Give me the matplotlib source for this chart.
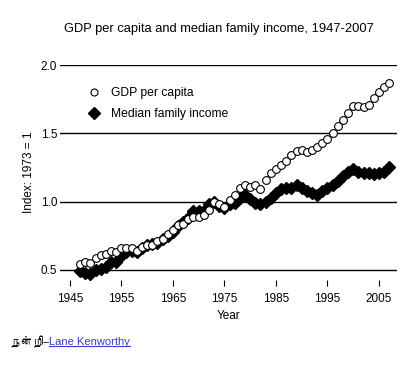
import numpy as np
import matplotlib
matplotlib.use("Agg")
import matplotlib.pyplot as plt
from matplotlib import font_manager
from matplotlib.ft2font import FT2Font
from matplotlib.lines import Line2D

plt.rcParams['font.family'] = ['Liberation Sans', 'DejaVu Sans']

# data (index, 1973 = 1)
years = list(range(1947, 2008))
gdp_per_capita = [
    0.54, 0.56, 0.55, 0.59, 0.61, 0.62, 0.64, 0.63, 0.66, 0.66,
    0.66, 0.64, 0.67, 0.68, 0.68, 0.71, 0.73, 0.76, 0.79, 0.83,
    0.84, 0.87, 0.89, 0.89, 0.90, 0.94, 1.00, 0.98, 0.96, 1.01,
    1.05, 1.10, 1.12, 1.11, 1.12, 1.09, 1.16, 1.21, 1.24, 1.27,
    1.30, 1.34, 1.37, 1.38, 1.36, 1.38, 1.40, 1.43, 1.46, 1.50,
    1.55, 1.60, 1.65, 1.70, 1.70, 1.69, 1.71, 1.76, 1.80, 1.84,
    1.87]
median_family_income = [
    0.49, 0.48, 0.47, 0.50, 0.51, 0.52, 0.56, 0.56, 0.60, 0.63,
    0.64, 0.63, 0.66, 0.68, 0.69, 0.70, 0.73, 0.75, 0.78, 0.82,
    0.85, 0.88, 0.93, 0.93, 0.93, 0.98, 1.00, 0.97, 0.95, 0.98,
    0.99, 1.03, 1.05, 1.02, 0.99, 0.98, 1.00, 1.03, 1.06, 1.09,
    1.10, 1.10, 1.12, 1.10, 1.08, 1.06, 1.05, 1.08, 1.10, 1.12,
    1.15, 1.19, 1.22, 1.24, 1.22, 1.21, 1.21, 1.20, 1.21, 1.22,
    1.25]
y_ticks = [0.5, 1.0, 1.5, 2.0]
x_ticks = [1945, 1955, 1965, 1975, 1985, 1995, 2005]


def family_with(ch):
    # look for any installed font that has the glyph
    for f in font_manager.fontManager.ttflist:
        try:
            if ord(ch) in FT2Font(f.fname).get_charmap():
                return f.name
        except Exception:
            continue
    return None


tamil = family_with('ந')
credit_fonts = ([tamil] if tamil else []) + ['Liberation Sans', 'DejaVu Sans']

fig = plt.figure(figsize=(4.17, 3.65), dpi=100)
ax = fig.add_axes([60 / 417, 1 - 280 / 365, 337 / 417, 215 / 365])

for v in y_ticks:
    ax.axhline(v, color='black', lw=1.0, zorder=1)

ax.plot(years, gdp_per_capita, 'o', ms=5.6, mfc='white', mec='black',
        mew=0.8, ls='none', zorder=3, label='GDP per capita')
ax.plot(years, median_family_income, 'D', ms=6.3, color='black',
        ls='none', zorder=2, label='Median family income')

ax.set_xlim(1943.1, 2008.5)
ax.set_ylim(0.4265, 2.0)
for s in ax.spines.values():
    s.set_visible(False)

ax.set_xticks(x_ticks)
ax.set_yticks(y_ticks)
ax.set_yticklabels(['0.5', '1.0', '1.5', '2.0'])
ax.tick_params(axis='x', length=4, width=0.8, pad=5, labelsize=8.5)
ax.tick_params(axis='y', length=0, pad=2, labelsize=8.5)
ax.set_xlabel('Year', fontsize=8.5, labelpad=4)
ax.set_ylabel('Index: 1973 = 1', fontsize=8.5, labelpad=4)

ax.legend(loc='upper left', bbox_to_anchor=(0.068, 0.92), frameon=False,
          fontsize=8.7, handletextpad=0.9, labelspacing=0.75,
          handlelength=1.0, borderaxespad=0, markerscale=0.9)

fig.text(219 / 417, 1 - 29 / 365, 'GDP per capita and median family income, 1947-2007',
         ha='center', va='center', fontsize=9.3)

# credit line at the bottom
t1 = fig.text(10 / 417, 1 - 342 / 365, 'நன்றி—',
              ha='left', va='center', fontsize=8, family=credit_fonts)
fig.canvas.draw()
bb = t1.get_window_extent()
t2 = fig.text(bb.x1 / fig.bbox.width, 1 - 342 / 365, 'Lane Kenworthy',
              ha='left', va='center', fontsize=8, color='#3a3acc')
fig.canvas.draw()
bb2 = t2.get_window_extent()
uy = (bb2.y0 + 1) / fig.bbox.height
fig.add_artist(Line2D([bb2.x0 / fig.bbox.width, bb2.x1 / fig.bbox.width], [uy, uy],
                      color='#3a3acc', lw=0.8))

fig.savefig('out.png', dpi=100)
